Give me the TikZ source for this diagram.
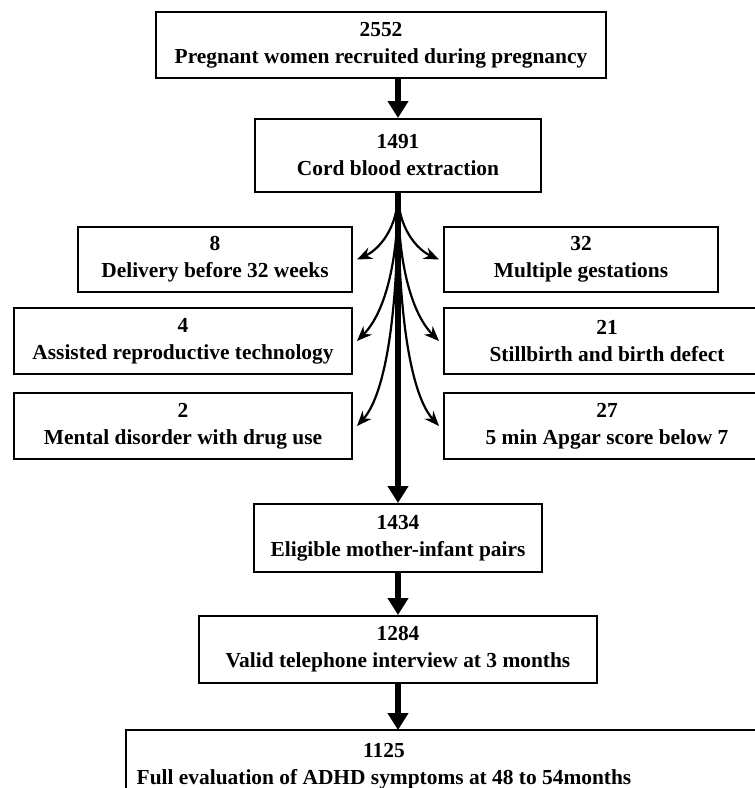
\documentclass[tikz,border=0pt]{standalone}
\usepackage{fontspec}
\setmainfont{Liberation Serif}
\usetikzlibrary{positioning,arrows.meta}

\begin{document}
\begin{tikzpicture}[
  x=1pt, y=1pt,
  node distance=39pt,
  box/.style={rectangle, draw, line width=2pt, align=center, inner sep=0pt,
              minimum height=66pt, font=\bfseries\fontsize{21.4}{27}\selectfont},
  arrow/.style={-{Triangle[width=20pt,length=17pt]}, line width=6pt},
  branch/.style={-{Stealth[width=12pt,length=15pt]}, line width=2.2pt}
]
\useasboundingbox (0,0) rectangle (755,-788);
\clip (0,0) rectangle (755,-788);

% main column
\node[box, minimum width=450pt] (recruit) at (381,-45) {2552\\Pregnant women recruited during pregnancy};
\node[box, minimum width=286pt, minimum height=73pt, below=39pt of recruit, xshift=17pt] (cord) {1491\\Cord blood extraction};
\node[box, minimum width=288pt, minimum height=68pt, below=310pt of cord] (eligible) {1434\\Eligible mother-infant pairs};
\node[box, minimum width=398pt, minimum height=67pt, below=42pt of eligible] (valid) {1284\\Valid telephone interview at 3 months};
\node[box, draw=none, minimum width=514pt, minimum height=70pt, below=46pt of valid, xshift=-14pt] (full) {1125\\Full evaluation of ADHD symptoms at 48 to 54months};
\draw[line width=2pt] (full.south west) rectangle ([xshift=150pt]full.north east); % runs off the page

% exclusions
\node[box, minimum width=274pt, minimum height=65pt, anchor=east] (delivery) at (353,-259.5) {8\\Delivery before 32 weeks};
\node[box, minimum width=338pt, anchor=east] (assisted) at (353,-341) {4\\Assisted reproductive technology};
\node[box, minimum width=338pt, anchor=east] (mental) at (353,-426) {2\\Mental disorder with drug use};
\node[box, minimum width=274pt, minimum height=65pt, anchor=west] (multiple) at (443,-259.5) {32\\Multiple gestations};
\node[box, minimum width=326pt, anchor=west] (still) at (443,-341) {21\\Stillbirth and birth defect};
\node[box, minimum width=326pt, anchor=west] (apgar) at (443,-426) {27\\5 min Apgar score below 7};

\draw[branch] (cord.south) .. controls +(0,-35) and +(22,10) .. ([xshift=4pt]delivery.east);
\draw[branch] (cord.south) .. controls +(0,-90) and +(20,20) .. ([xshift=4pt]assisted.east);
\draw[branch] (cord.south) .. controls +(0,-160) and +(20,22) .. ([xshift=4pt]mental.east);
\draw[branch] (cord.south) .. controls +(0,-35) and +(-22,10) .. ([xshift=-4pt]multiple.west);
\draw[branch] (cord.south) .. controls +(0,-90) and +(-20,20) .. ([xshift=-4pt]still.west);
\draw[branch] (cord.south) .. controls +(0,-160) and +(-20,22) .. ([xshift=-4pt]apgar.west);

\draw[arrow] (cord.north |- recruit.south) -- (cord.north);
\draw[arrow] (cord.south) -- (eligible.north);
\draw[arrow] (eligible.south) -- (valid.north);
\draw[arrow] (valid.south) -- (valid.south |- full.north);
\end{tikzpicture}
\end{document}
